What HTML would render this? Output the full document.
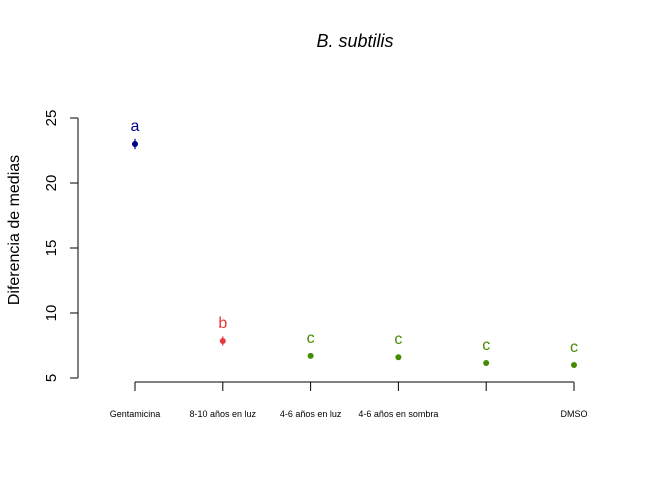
<!DOCTYPE html>
<html><head><meta charset="utf-8"><style>
body{margin:0;background:#fff}
svg{display:block;font-family:"Liberation Sans",Arial,sans-serif}
</style></head><body>
<svg id="chart" width="672" height="480">
<text x="355" y="47" text-anchor="middle" font-size="18" font-style="italic">B. subtilis</text>
<text transform="translate(19,230) rotate(-90)" text-anchor="middle" font-size="16">Diferencia de medias</text>
<g id="yaxis"></g>
<g id="xaxis"></g>
<g id="marks"></g>
</svg>
<script>
const categories=["Gentamicina","8-10 años en luz","4-6 años en luz","4-6 años en sombra","","DMSO"];
const means=[23.0,7.85,6.7,6.6,6.15,6.0];
const errs=[0.4,0.35,0.1,0.1,0.15,0.1];
const groups=["a","b","c","c","c","c"];
const colors=["#00008b","#e8383d","#458b00","#458b00","#458b00","#458b00"];
const yTicks=[5,10,15,20,25];
const NS="http://www.w3.org/2000/svg";
function y(v){return 378-(v-5)*13;}
function x(i){return 135+i*87.8;}
function el(t,a,p){const e=document.createElementNS(NS,t);for(const k in a)e.setAttribute(k,a[k]);p.appendChild(e);return e;}
const ya=document.getElementById('yaxis'),xa=document.getElementById('xaxis'),mk=document.getElementById('marks');
el('line',{x1:78,x2:78,y1:y(25),y2:y(5),stroke:'#000'},ya);
yTicks.forEach(t=>{
 const l=el('line',{x1:70,x2:78,y1:y(t),y2:y(t),stroke:'#000'},ya);
 
 
 const tx=el('text',{transform:`translate(56,${y(t)}) rotate(-90)`,'text-anchor':'middle','font-size':15},ya);
 tx.textContent=t;
 
 
});
el('line',{x1:x(0),x2:x(5),y1:382,y2:382,stroke:'#000'},xa);
categories.forEach((c,i)=>{
 const l=el('line',{x1:x(i),x2:x(i),y1:382,y2:391,stroke:'#000'},xa);
 
 
 const t=el('text',{x:x(i),y:417,'text-anchor':'middle','font-size':9},xa);
 t.textContent=c;
 
 
 const e=el('line',{x1:x(i),x2:x(i),y1:y(means[i]+errs[i]),y2:y(means[i]-errs[i]),stroke:colors[i],'stroke-width':1.2},mk);
 
 
 const p=el('circle',{cx:x(i),cy:y(means[i]),r:3,fill:colors[i]},mk);
 
 
 const g=el('text',{x:x(i),y:y(means[i])-13,'text-anchor':'middle','font-size':16,fill:colors[i]},mk);
 g.textContent=groups[i];
 
 
});
</script>
</body></html>
